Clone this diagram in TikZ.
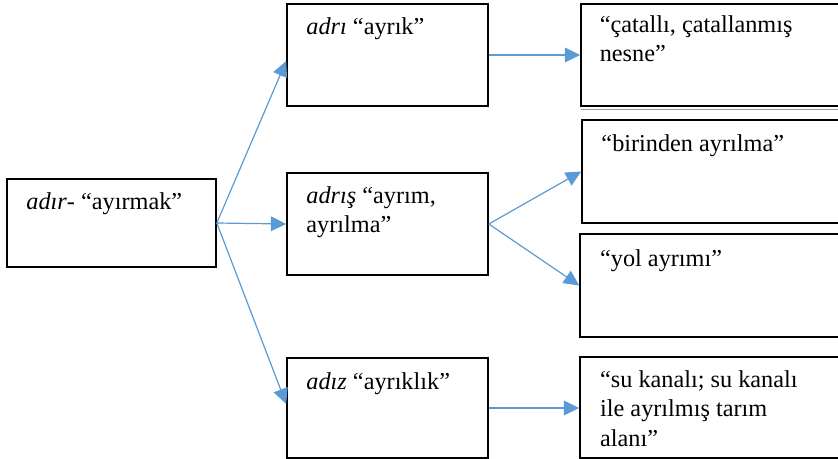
\documentclass[tikz,border=0pt]{standalone}
\usepackage{fontspec}
\setmainfont{Liberation Serif}
\usetikzlibrary{arrows.meta,fit}
\definecolor{arrowblue}{RGB}{91,155,213}
\begin{document}
\begin{tikzpicture}[x=0.75pt,y=-0.75pt,
  box/.style={draw=black, line width=1.2pt, inner sep=0pt},
  txt/.style={anchor=north west, inner sep=0pt, align=left, font=\fontsize{18.2pt}{22pt}\selectfont},
  conn/.style={draw=arrowblue, line width=0.9pt, -{Triangle[length=11.5pt,width=11pt]}}]
\clip (0,0) rectangle (838,459);
\fill[white] (0,0) rectangle (838,459);
% boxes
\node[box, fit={(7,179) (216,267)}] (A) {};
\node[box, fit={(287,4) (488,106)}] (B) {};
\node[box, fit={(287,173) (488,275)}] (C) {};
\node[box, fit={(287,358) (488,458)}] (D) {};
\node[box, fit={(581,4) (846,106)}] (F) {};
\node[box, fit={(582,120) (846,223)}] (G) {};
\node[box, fit={(580,234) (846,337)}] (H) {};
\node[box, fit={(580,357) (846,458)}] (E) {};
\draw[black!40, line width=0.7pt] (581,109.5) -- (846,109.5);
% texts
\node[txt] (tA) at ([xshift=15pt]A.north west) {\rule{0pt}{23.5pt}\textit{adır}- “ayırmak”};
\node[txt] (tB) at ([xshift=15pt]B.north west) {\rule{0pt}{23.25pt}\textit{adrı} “ayrık”};
\node[txt] (tC) at ([xshift=15pt]C.north west) {\rule{0pt}{23.25pt}\textit{adrış} “ayrım,\\ayrılma”};
\node[txt] (tD) at ([xshift=15pt]D.north west) {\rule{0pt}{24pt}\textit{adız} “ayrıklık”};
\node[txt] (tF) at ([xshift=14.5pt]F.north west) {\rule{0pt}{21.5pt}“çatallı, çatallanmış\\nesne”};
\node[txt] (tG) at ([xshift=15pt]G.north west) {\rule{0pt}{24pt}“birinden ayrılma”};
\node[txt] (tH) at ([xshift=15.5pt]H.north west) {\rule{0pt}{24.5pt}“yol ayrımı”};
\node[txt] (tE) at ([xshift=15.5pt]E.north west) {\rule{0pt}{23.25pt}“su kanalı; su kanalı\\ile ayrılmış tarım\\alanı”};
% connectors
\draw[conn] (A.east) -- ([yshift=-4.5pt]B.west);
\draw[conn] (A.east) -- (C.west);
\draw[conn] (A.east) -- ([yshift=3pt]D.west);
\draw[conn] (B.east) -- (F.west |- B.east);
\draw[conn] (C.east) -- (G.west);
\draw[conn] (C.east) -- (H.west);
\draw[conn] (D.east) -- (E.west |- D.east);
\end{tikzpicture}
\end{document}
